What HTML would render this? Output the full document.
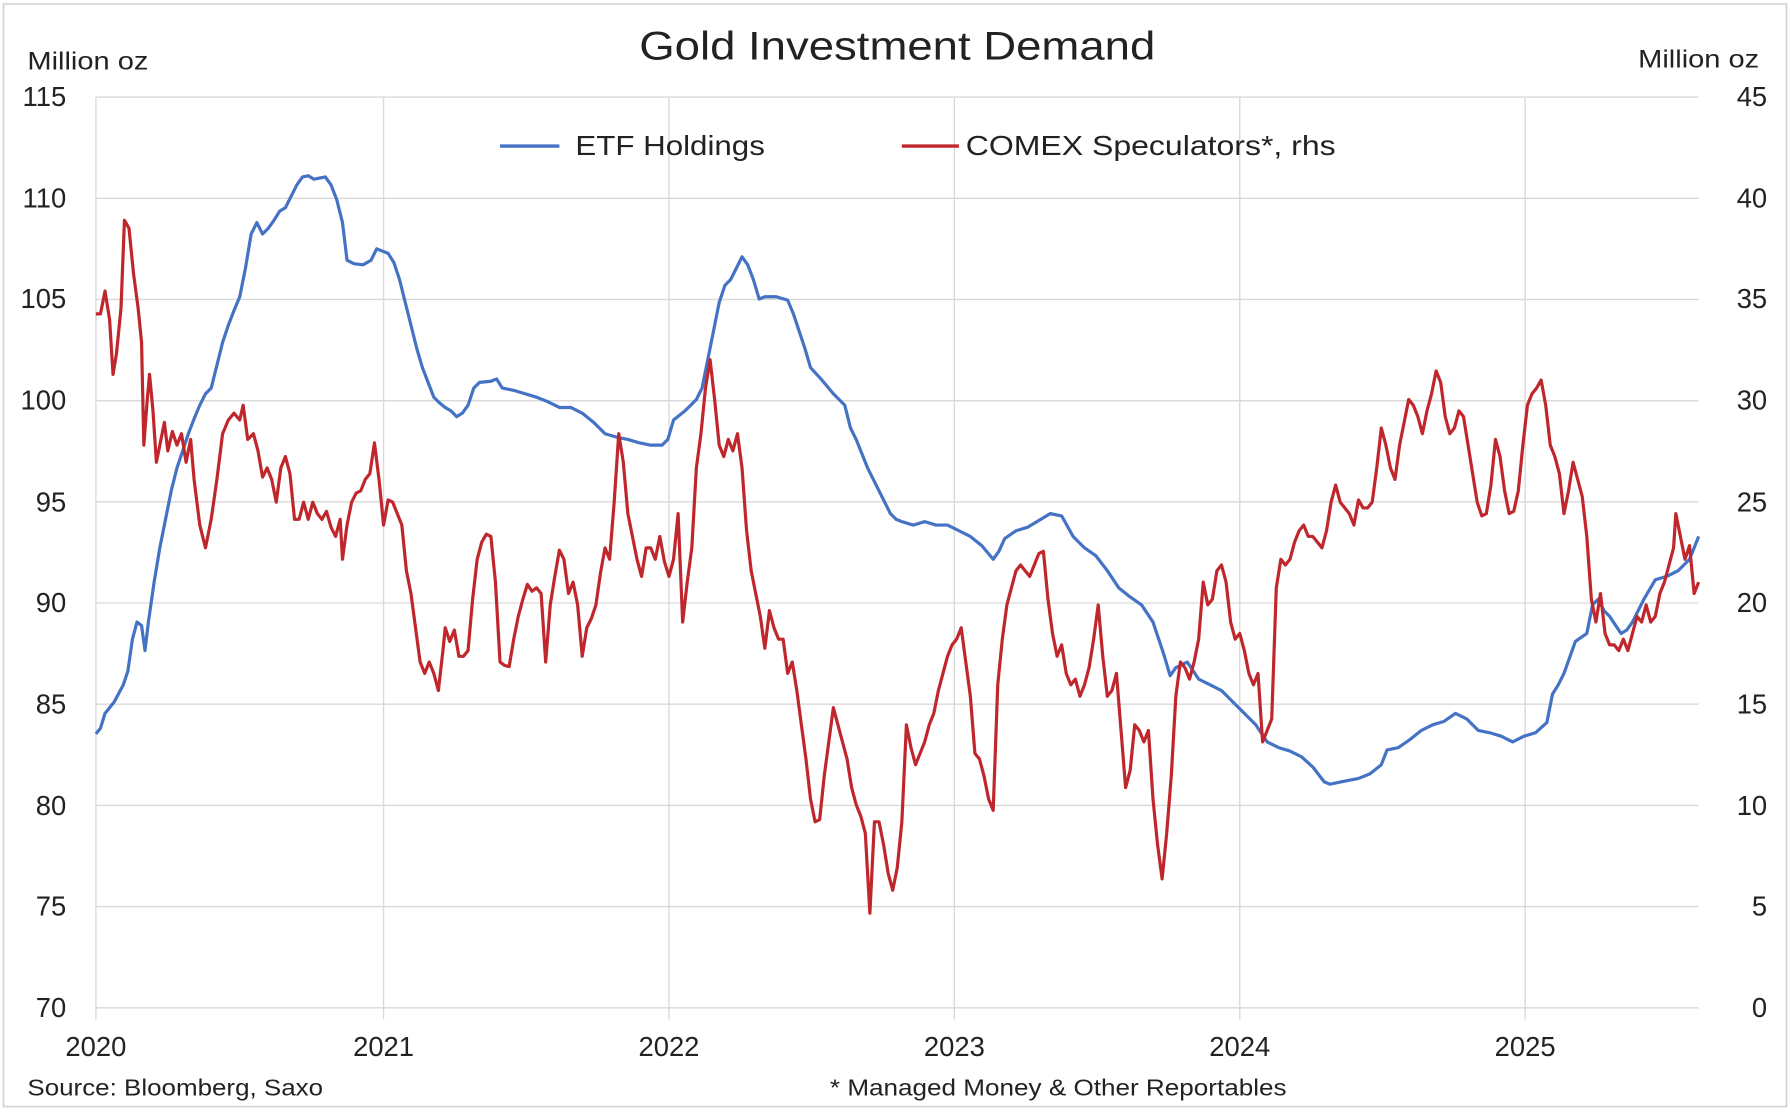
<!DOCTYPE html>
<html><head><meta charset="utf-8"><style>html,body{margin:0;padding:0;background:#fff}svg{display:block}text{font-family:"Liberation Sans",sans-serif;fill:#222}</style></head>
<body>
<svg width="1790" height="1114" viewBox="0 0 1568 976" preserveAspectRatio="none" xmlns="http://www.w3.org/2000/svg">
<rect x="3" y="3.5" width="1562" height="966" fill="#fff" stroke="#d4d4d4" stroke-width="1.5"/>
<g stroke="#d9d9d9" stroke-width="1.2">
<line x1="84" x2="1488" y1="85" y2="85"/><line x1="84" x2="1488" y1="173.7" y2="173.7"/><line x1="84" x2="1488" y1="262.3" y2="262.3"/><line x1="84" x2="1488" y1="351" y2="351"/><line x1="84" x2="1488" y1="439.7" y2="439.7"/><line x1="84" x2="1488" y1="528.3" y2="528.3"/><line x1="84" x2="1488" y1="617" y2="617"/><line x1="84" x2="1488" y1="705.7" y2="705.7"/><line x1="84" x2="1488" y1="794.3" y2="794.3"/><line x1="84" x2="1488" y1="883" y2="883"/>
<line x1="84" x2="84" y1="85" y2="893"/><line x1="336" x2="336" y1="85" y2="893"/><line x1="586" x2="586" y1="85" y2="893"/><line x1="836" x2="836" y1="85" y2="893"/><line x1="1086" x2="1086" y1="85" y2="893"/><line x1="1336" x2="1336" y1="85" y2="893"/>
</g>
<text x="560" y="52" font-size="35" textLength="452" lengthAdjust="spacingAndGlyphs">Gold Investment Demand</text>
<text x="24" y="61" font-size="22" textLength="106" lengthAdjust="spacingAndGlyphs">Million oz</text>
<text x="1435" y="59" font-size="22" textLength="106" lengthAdjust="spacingAndGlyphs">Million oz</text>
<g font-size="24" text-anchor="end">
<text x="58" y="93">115</text><text x="58" y="182">110</text><text x="58" y="270">105</text><text x="58" y="359">100</text><text x="58" y="448">95</text><text x="58" y="536">90</text><text x="58" y="625">85</text><text x="58" y="714">80</text><text x="58" y="802">75</text><text x="58" y="891">70</text>
</g>
<g font-size="24" text-anchor="end">
<text x="1548" y="93">45</text><text x="1548" y="182">40</text><text x="1548" y="270">35</text><text x="1548" y="359">30</text><text x="1548" y="448">25</text><text x="1548" y="536">20</text><text x="1548" y="625">15</text><text x="1548" y="714">10</text><text x="1548" y="802">5</text><text x="1548" y="891">0</text>
</g>
<g font-size="24" text-anchor="middle">
<text x="84" y="925">2020</text><text x="336" y="925">2021</text><text x="586" y="925">2022</text><text x="836" y="925">2023</text><text x="1086" y="925">2024</text><text x="1336" y="925">2025</text>
</g>
<text x="24" y="960" font-size="20" textLength="259" lengthAdjust="spacingAndGlyphs">Source: Bloomberg, Saxo</text>
<text x="727" y="960" font-size="20" textLength="400" lengthAdjust="spacingAndGlyphs">* Managed Money &amp; Other Reportables</text>
<line x1="438" x2="490" y1="128" y2="128" stroke="#4472C4" stroke-width="3"/>
<text x="504" y="136" font-size="24" textLength="166" lengthAdjust="spacingAndGlyphs">ETF Holdings</text>
<line x1="790" x2="840" y1="128" y2="128" stroke="#C0272D" stroke-width="3"/>
<text x="846" y="136" font-size="24" textLength="324" lengthAdjust="spacingAndGlyphs">COMEX Speculators*, rhs</text>
<polyline fill="none" stroke="#4472C4" stroke-width="2.8" stroke-linejoin="round" points="84,643 88,638 92,625 100,615 108,600 112,588 116,560 120,545 124,548 127,570 130,545 135,510 140,480 145,455 150,430 155,410 160,395 165,380 170,367 175,355 180,345 185,340 190,320 195,300 200,285 205,272 210,260 215,235 220,205 225,195 230,205 235,200 240,193 245,185 250,182 255,172 260,162 265,155 270,154 275,157 280,156 285,155 290,162 295,175 300,195 304,228 310,231 318,232 325,228 330,218 335,220 340,222 345,230 350,245 355,265 360,285 365,305 370,322 375,335 380,348 385,353 390,357 395,360 400,365 405,362 410,355 415,340 420,335 430,334 435,332 440,340 450,342 460,345 470,348 480,352 490,357 500,357 510,362 520,370 530,380 540,383 550,385 560,388 570,390 580,390 585,385 590,368 600,360 605,355 610,350 615,340 620,315 625,290 630,265 635,250 640,245 645,235 650,225 655,232 660,245 665,262 670,260 680,260 690,263 695,275 700,290 705,305 710,322 720,333 730,345 740,355 745,375 750,385 760,410 770,430 780,450 785,455 790,457 800,460 810,457 820,460 830,460 840,465 850,470 860,478 870,490 875,483 880,472 890,465 900,462 910,456 920,450 930,452 940,470 950,480 960,487 970,500 980,515 990,523 1000,530 1010,545 1015,560 1020,575 1025,592 1030,585 1040,580 1050,595 1060,600 1070,605 1080,615 1090,625 1100,635 1110,650 1120,655 1130,658 1140,663 1150,672 1160,685 1165,687 1175,685 1190,682 1200,678 1210,670 1215,657 1225,655 1235,648 1245,640 1255,635 1265,632 1275,625 1285,630 1295,640 1305,642 1315,645 1325,650 1335,645 1345,642 1355,633 1360,608 1365,600 1370,590 1380,562 1390,555 1395,530 1400,525 1405,535 1410,540 1420,555 1425,552 1430,545 1440,525 1450,508 1460,505 1470,500 1480,490 1488,470"/>
<polyline fill="none" stroke="#C0272D" stroke-width="2.8" stroke-linejoin="round" points="84,275 88,275 92,255 96,280 99,328 102,310 106,270 109,193 113,200 117,240 121,270 124,300 126,390 129,350 131,328 134,360 137,405 140,390 144,370 147,395 151,378 155,390 159,380 163,405 167,385 170,420 175,460 180,480 185,455 190,420 195,380 200,368 205,362 210,368 213,355 217,385 222,380 226,395 230,418 234,410 238,420 242,440 246,410 250,400 254,415 258,455 262,455 266,440 270,455 274,440 278,450 282,455 286,448 290,462 294,470 298,455 300,490 304,460 308,440 312,432 316,430 320,420 324,415 328,388 332,420 336,460 340,438 344,440 348,450 352,460 356,500 360,520 364,550 368,580 372,590 376,580 380,590 384,605 388,570 390,550 394,562 398,552 402,575 406,575 410,570 414,525 418,490 422,475 426,468 430,470 434,510 438,580 442,583 446,584 450,560 454,540 458,525 462,512 466,518 470,515 474,520 478,580 482,530 486,505 490,482 494,490 498,520 502,510 506,530 510,575 514,550 518,542 522,530 526,502 530,480 534,490 538,440 542,380 546,405 550,450 554,470 558,490 562,505 566,480 570,480 574,490 578,470 582,492 586,505 590,490 594,450 598,545 602,510 606,480 610,410 614,380 618,340 622,315 626,350 630,390 634,400 638,385 642,395 646,380 650,410 654,465 658,500 662,520 666,540 670,568 674,535 678,550 682,560 686,560 690,590 694,580 698,605 702,635 706,665 710,700 714,720 718,718 722,680 726,650 730,620 734,635 738,650 742,665 746,690 750,705 754,715 758,730 762,800 766,720 770,720 774,740 778,765 782,780 786,760 790,720 794,635 798,655 802,670 806,660 810,650 814,635 818,625 822,605 826,590 830,575 834,565 838,560 842,550 846,580 850,610 854,660 858,665 862,680 866,700 870,710 874,600 878,560 882,530 886,515 890,500 894,495 898,500 902,505 906,495 910,485 914,483 918,525 922,555 926,575 930,565 934,590 938,600 942,595 946,610 950,600 954,585 958,560 962,530 966,575 970,610 974,605 978,590 982,640 986,690 990,675 994,635 998,640 1002,650 1006,640 1010,700 1014,740 1018,770 1022,730 1026,680 1030,610 1034,580 1038,585 1042,595 1046,580 1050,560 1054,510 1058,530 1062,525 1066,500 1070,495 1074,510 1078,545 1082,560 1086,555 1090,570 1094,590 1098,600 1102,590 1106,650 1110,640 1114,630 1118,515 1122,490 1126,495 1130,490 1134,475 1138,465 1142,460 1146,470 1150,470 1154,475 1158,480 1162,465 1166,440 1170,425 1174,440 1178,445 1182,450 1186,460 1190,438 1194,445 1198,445 1202,440 1206,410 1210,375 1214,390 1218,410 1222,420 1226,390 1230,370 1234,350 1238,355 1242,365 1246,380 1250,360 1254,345 1258,325 1262,335 1266,365 1270,380 1274,375 1278,360 1282,365 1286,390 1290,415 1294,440 1298,452 1302,450 1306,425 1310,385 1314,400 1318,430 1322,450 1326,448 1330,430 1334,390 1338,355 1342,345 1346,340 1350,333 1354,355 1358,390 1362,400 1366,415 1370,450 1374,430 1378,405 1382,420 1386,435 1390,470 1394,525 1398,545 1402,520 1406,555 1410,565 1414,565 1418,570 1422,560 1426,570 1430,555 1434,540 1438,545 1442,530 1446,545 1450,540 1454,520 1458,510 1462,495 1466,480 1468,450 1472,470 1476,490 1480,478 1484,520 1488,510"/>
</svg>
</body></html>
